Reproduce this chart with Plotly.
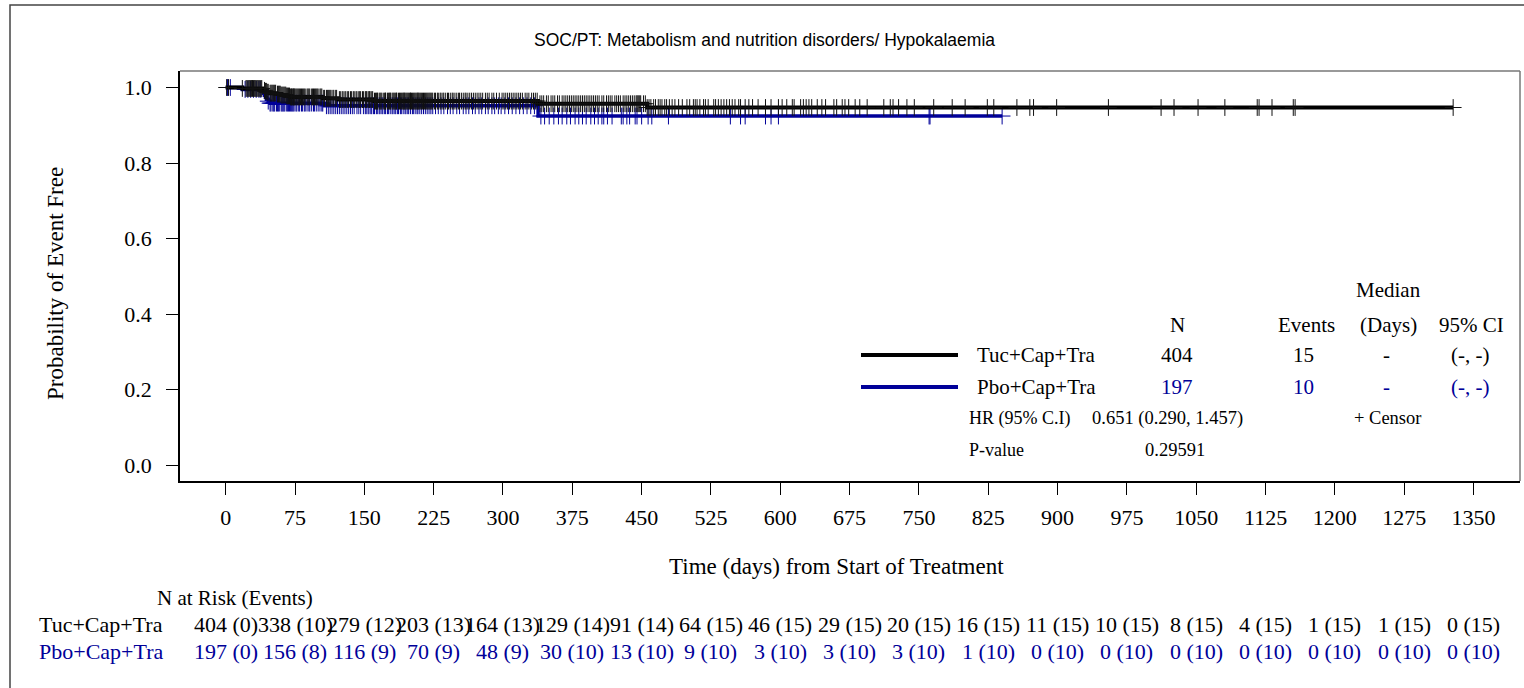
import numpy as np
import plotly.graph_objects as go

# ---------------- data ----------------
title_text = "SOC/PT: Metabolism and nutrition disorders/ Hypokalaemia"
arm_names = ["Tuc+Cap+Tra", "Pbo+Cap+Tra"]

# Kaplan-Meier step curves (day, survival)
tuc_days = [0, 18, 40, 41, 43, 45, 47, 55, 60, 66, 70, 105, 122, 160, 338, 456, 1328]
tuc_surv = [1.000, 0.9975, 0.995, 0.9925, 0.990, 0.9875, 0.985, 0.9825, 0.980, 0.9775,
            0.975, 0.9715, 0.968, 0.964, 0.957, 0.947, 0.947]
pbo_days = [0, 18, 40, 41, 42, 43, 44, 46, 48, 107, 338, 840]
pbo_surv = [1.000, 0.9949, 0.9898, 0.9846, 0.9794, 0.9742, 0.9690, 0.9638, 0.9586,
            0.9516, 0.9244, 0.9244]

# censor times (days)
tuc_censor = [
    1, 3, 18, 23, 34, 43, 60, 22, 24, 25, 27, 28, 29, 31, 32, 33, 35, 36, 38, 39, 42, 44, 46, 48,
    49, 50, 51, 53, 54, 56, 57, 58, 59, 61, 62, 63, 64, 65, 67, 68, 69, 70, 71, 71, 72, 73, 73,
    74, 74, 75, 52, 45, 37, 30, 26, 66,
    76, 77, 78, 79, 80, 81, 83, 84, 85, 86, 88, 89, 90, 91, 93, 94, 95, 96, 98, 99, 100, 102, 103,
    104, 106, 107, 109, 110, 111, 113, 114, 116, 117, 119, 120, 123, 124, 126, 127, 129, 130, 132,
    133, 135, 136, 138, 139, 141, 142, 144, 145, 146, 148, 149, 82, 97, 112,
    151, 152, 152, 154, 155, 156, 156, 158, 159, 161, 162, 163, 164, 164, 166, 167, 168, 169, 171,
    172, 173, 173, 175, 176, 177, 178, 178, 180, 181, 182, 183, 184, 185, 185, 187, 188, 189, 190,
    191, 192, 193, 193, 194, 195, 196, 197, 198, 199, 200, 200, 201, 202, 203, 204, 205, 206, 207,
    208, 208, 209, 210, 211, 212, 213, 214, 215, 216, 217, 218, 219, 220, 221, 222, 223, 224,
    226, 227, 229, 230, 232, 233, 235, 236, 238, 240, 241, 243, 245, 246, 248, 250, 252, 253, 255,
    257, 259, 260, 262, 264, 266, 268, 270, 272, 274, 276, 278, 281, 283, 285, 288, 290, 293, 296, 299,
    301, 303, 305, 307, 309, 311, 313, 315, 317, 319, 321, 324, 326, 328, 331, 333, 335, 337, 340,
    342, 344, 347, 349, 352, 354, 356, 359, 361, 364, 366, 368, 370, 372, 374,
    376, 378, 380, 382, 384, 386, 388, 390, 392, 394, 396, 398, 400, 402, 404, 407, 409, 412, 414,
    416, 418, 421, 423, 425, 427, 430, 432, 434, 436, 438, 440, 442, 444, 446, 447, 448, 449, 445,
    452, 454, 456, 458, 460, 463, 465, 468, 470, 472, 475, 477, 480, 483, 486, 490, 494, 499, 502,
    506, 508, 510, 513, 517, 519, 522,
    528, 530, 533, 536, 539, 542, 545, 548, 551, 555, 557, 562, 566, 570, 576, 584, 590, 598,
    602, 607, 613, 615, 622, 625, 628, 631, 634, 640, 645, 649, 658, 661, 667, 670, 674,
    681, 686, 694, 712, 719, 722, 728, 737, 745,
    766, 786, 800, 824, 831, 856, 870, 874, 899, 955, 1012, 1026, 1052, 1081, 1116, 1118,
    1132, 1155, 1157, 1328,
]
pbo_censor = [
    2, 5, 21, 24, 27, 30, 33, 36, 38, 46, 48, 49, 51, 52, 53, 55, 56, 57, 58, 60, 61, 62, 63, 64,
    66, 67, 68, 69, 70, 71, 72, 73, 74,
    76, 77, 79, 80, 82, 83, 85, 86, 88, 90, 91, 93, 95, 96, 98, 100, 102, 104, 105, 109, 111, 113,
    115, 117, 119, 121, 123, 125, 127, 129, 131, 133, 135, 137, 139, 142, 144, 146, 149,
    151, 152, 154, 155, 157, 158, 160, 161, 163, 164, 166, 167, 169, 170, 172, 173, 175, 176, 178,
    180, 181, 183, 184, 186, 187, 189, 190, 192, 194, 195, 197, 198, 200, 202, 203, 205, 207, 208,
    210, 212, 214, 216, 218, 220, 222, 224,
    227, 230, 233, 236, 240, 243, 246, 250, 253, 257, 260, 263, 267, 270, 274, 277, 281, 284, 288,
    291, 295, 298,
    302, 306, 310, 314, 318, 322, 326, 330, 334, 341, 345, 350, 355, 360, 364, 369, 373,
    378, 382, 386, 390, 395, 399, 403, 407, 409, 413, 418, 428, 430, 434, 437, 443, 445,
    450, 457, 461, 479, 546, 557, 562, 584, 590, 598, 761, 762, 840,
]

# axis ticks
x_ticks = [0, 75, 150, 225, 300, 375, 450, 525, 600, 675, 750, 825, 900, 975, 1050, 1125,
           1200, 1275, 1350]
y_ticks = [0.0, 0.2, 0.4, 0.6, 0.8, 1.0]

# number at risk (events) at each x tick
tuc_risk = [404, 338, 279, 203, 164, 129, 91, 64, 46, 29, 20, 16, 11, 10, 8, 4, 1, 1, 0]
tuc_risk_ev = [0, 10, 12, 13, 13, 14, 14, 15, 15, 15, 15, 15, 15, 15, 15, 15, 15, 15, 15]
pbo_risk = [197, 156, 116, 70, 48, 30, 13, 9, 3, 3, 3, 1, 0, 0, 0, 0, 0, 0, 0]
pbo_risk_ev = [0, 8, 9, 9, 9, 10, 10, 10, 10, 10, 10, 10, 10, 10, 10, 10, 10, 10, 10]

# summary table
stat_n = ["404", "197"]
stat_events = ["15", "10"]
stat_median = ["-", "-"]
stat_ci = ["(-, -)", "(-, -)"]
hr_text = "0.651 (0.290, 1.457)"
p_text = "0.29591"

# ---------------- style ----------------
BLACK = "#000000"
BLUE = "#000099"
SERIF = "Liberation Serif, Times New Roman, serif"
SANS = "Liberation Sans, Arial, sans-serif"

W, H = 1524, 688
L, R, T, B = 180, 1520, 71, 481  # plot area in page pixels


def PX(px):
    return (px - L) / (R - L)


def PY(py):
    return (B - py) / (B - T)


def step_value(days, surv, t):
    idx = np.searchsorted(np.array(days), np.array(t), side="right") - 1
    return np.array(surv)[idx]


fig = go.Figure()

fig.add_trace(go.Scatter(x=pbo_days, y=pbo_surv, mode="lines",
                         line=dict(color=BLUE, width=3.5, shape="hv"),
                         hoverinfo="skip", showlegend=False))
fig.add_trace(go.Scatter(x=pbo_censor, y=step_value(pbo_days, pbo_surv, pbo_censor),
                         mode="markers",
                         marker=dict(symbol="cross-thin", size=12,
                                     line=dict(color=BLUE, width=1)),
                         hoverinfo="skip", showlegend=False))
fig.add_trace(go.Scatter(x=tuc_days, y=tuc_surv, mode="lines",
                         line=dict(color=BLACK, width=4, shape="hv"),
                         hoverinfo="skip", showlegend=False))
fig.add_trace(go.Scatter(x=tuc_censor, y=step_value(tuc_days, tuc_surv, tuc_censor),
                         mode="markers",
                         marker=dict(symbol="cross-thin", size=12,
                                     line=dict(color="#111111", width=1)),
                         hoverinfo="skip", showlegend=False))

x0 = 225.7
ppd = 0.9243
yppu = 377.5
fig.update_xaxes(range=[(L - x0) / ppd, (R - x0) / ppd], tickvals=x_ticks,
                 ticktext=[str(v) for v in x_ticks], ticks="outside", ticklen=12,
                 tickcolor=BLACK, showline=True, linecolor=BLACK, linewidth=1.5,
                 showgrid=False, zeroline=False, ticklabelstandoff=4,
                 tickfont=dict(family=SERIF, size=22, color=BLACK))
fig.update_yaxes(range=[-(B - 465) / yppu, 1 + (87.5 - T) / yppu], tickvals=y_ticks,
                 ticktext=[f"{v:.1f}" for v in y_ticks], ticks="outside", ticklen=12,
                 tickcolor=BLACK, showline=True, linecolor=BLACK, linewidth=1.5,
                 showgrid=False, zeroline=False, ticklabelstandoff=10,
                 tickfont=dict(family=SERIF, size=22, color=BLACK))

shapes = []
# outer frame
shapes.append(dict(type="rect", xref="paper", yref="paper", x0=PX(10), x1=PX(1534),
                   y0=PY(700), y1=PY(5), line=dict(color="#444444", width=1.5),
                   fillcolor="rgba(0,0,0,0)", layer="below"))
# top/right plot border
shapes.append(dict(type="line", xref="paper", yref="paper", x0=0, x1=1, y0=1, y1=1,
                   line=dict(color="#777777", width=1.5)))
shapes.append(dict(type="line", xref="paper", yref="paper", x0=1, x1=1, y0=0, y1=1,
                   line=dict(color="#777777", width=1.5)))
# legend lines
shapes.append(dict(type="line", xref="paper", yref="paper", x0=PX(861), x1=PX(958),
                   y0=PY(355), y1=PY(355), line=dict(color=BLACK, width=4)))
shapes.append(dict(type="line", xref="paper", yref="paper", x0=PX(861), x1=PX(958),
                   y0=PY(387), y1=PY(387), line=dict(color=BLUE, width=4)))

ann = []


def txt(text, px, py, size=20, color=BLACK, anchor="center", family=SERIF, angle=0):
    ann.append(dict(text=text, xref="paper", yref="paper", x=PX(px), y=PY(py),
                    xanchor=anchor, yanchor="middle", showarrow=False, textangle=angle,
                    font=dict(family=family, size=size, color=color)))


txt(title_text, 764, 40, size=17.5, family=SANS)
txt("Probability of Event Free", 55, 283, size=23, angle=-90)
txt("Time (days) from Start of Treatment", 836, 566, size=23)

# summary table
txt("Median", 1388, 290, size=21)
txt("N", 1177, 325, size=21)
txt("Events", 1306, 325, size=21)
txt("(Days)", 1388, 325, size=21)
txt("95% CI", 1471, 325, size=21)
for i, (yy, col) in enumerate([(355, BLACK), (387, BLUE)]):
    txt(arm_names[i], 975, yy, size=21, anchor="left")
    txt(stat_n[i], 1177, yy, size=21, color=col)
    txt(stat_events[i], 1303, yy, size=21, color=col)
    txt(stat_median[i], 1386, yy, size=21, color=col)
    txt(stat_ci[i], 1470, yy, size=21, color=col)
txt("HR (95% C.I)", 967, 418, size=18, anchor="left")
txt(hr_text, 1090, 418, size=18.5, anchor="left")
txt("+ Censor", 1387, 418, size=18.5)
txt("P-value", 967, 450, size=18, anchor="left")
txt(p_text, 1175, 450, size=18.5)

# risk table
txt("N at Risk (Events)", 155, 598, size=21, anchor="left")
txt(arm_names[0], 37, 624, size=22, anchor="left")
txt(arm_names[1], 37, 651, size=22, anchor="left", color=BLUE)
for xv, n, e in zip(x_ticks, tuc_risk, tuc_risk_ev):
    ann.append(dict(text=f"{n} ({e})", xref="x", yref="paper", x=xv, y=PY(624),
                    xanchor="center", yanchor="middle", showarrow=False,
                    font=dict(family=SERIF, size=22, color=BLACK)))
for xv, n, e in zip(x_ticks, pbo_risk, pbo_risk_ev):
    ann.append(dict(text=f"{n} ({e})", xref="x", yref="paper", x=xv, y=PY(651),
                    xanchor="center", yanchor="middle", showarrow=False,
                    font=dict(family=SERIF, size=22, color=BLUE)))

fig.update_layout(width=W, height=H, margin=dict(l=L, r=W - R, t=T, b=H - B, pad=0),
                  paper_bgcolor="white", plot_bgcolor="white", shapes=shapes,
                  annotations=ann, showlegend=False)

fig.write_html("out.html", config={"displayModeBar": False},
               post_script="document.body.style.margin='0';document.body.style.overflow='hidden';")
